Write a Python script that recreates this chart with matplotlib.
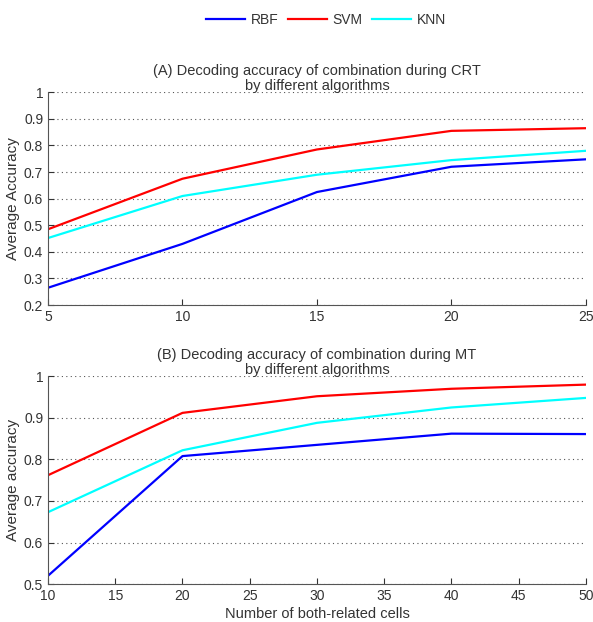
import matplotlib
matplotlib.use("Agg")
import matplotlib.pyplot as plt

plt.rcParams['font.family'] = ['Liberation Sans', 'DejaVu Sans']

# (A) CRT
cells_a = [5, 10, 15, 20, 25]
rbf_a = [0.265, 0.43, 0.625, 0.72, 0.748]
svm_a = [0.485, 0.675, 0.785, 0.855, 0.865]
knn_a = [0.452, 0.61, 0.69, 0.745, 0.78]

# (B) MT
cells_b = [10, 20, 30, 40, 50]
rbf_b = [0.52, 0.808, 0.835, 0.862, 0.861]
svm_b = [0.762, 0.912, 0.952, 0.97, 0.98]
knn_b = [0.673, 0.822, 0.888, 0.925, 0.948]

labels = ["RBF", "SVM", "KNN"]
colors = ["#0000ff", "#ff0000", "#00ffff"]

fig = plt.figure(figsize=(5.93, 6.22), dpi=100)
ax1 = fig.add_axes([0.081, 0.5096, 0.907, 0.342])
ax2 = fig.add_axes([0.081, 0.061, 0.907, 0.334])


def style(ax):
    ax.grid(axis='y', linestyle=(0, (1, 3)), color='#555555', linewidth=0.8)
    ax.tick_params(direction='in', labelsize=10, colors='#333333', length=4, right=False, top=False)
    for s in ax.spines.values():
        s.set_color('#555555')
    ax.spines['top'].set_visible(False)
    ax.spines['right'].set_visible(False)


handles = []
for y, c, lab in zip([rbf_a, svm_a, knn_a], colors, labels):
    h, = ax1.plot(cells_a, y, color=c, lw=1.6, label=lab)
    handles.append(h)
ax1.set_xlim(5, 25)
ax1.set_ylim(0.2, 1)
ax1.set_xticks([5, 10, 15, 20, 25])
ax1.set_yticks([0.2, 0.3, 0.4, 0.5, 0.6, 0.7, 0.8, 0.9, 1])
ax1.set_yticklabels(["0.2", "0.3", "0.4", "0.5", "0.6", "0.7", "0.8", "0.9", "1"])
ax1.set_ylabel("Average Accuracy", fontsize=11, color='#333333', labelpad=3)
ax1.set_title("(A) Decoding accuracy of combination during CRT\nby different algorithms",
              fontsize=10.5, color='#333333', y=1.0, pad=1.5, linespacing=1.15)
style(ax1)

for y, c in zip([rbf_b, svm_b, knn_b], colors):
    ax2.plot(cells_b, y, color=c, lw=1.6)
ax2.set_xlim(10, 50)
ax2.set_ylim(0.5, 1)
ax2.set_xticks([10, 15, 20, 25, 30, 35, 40, 45, 50])
ax2.set_yticks([0.5, 0.6, 0.7, 0.8, 0.9, 1])
ax2.set_yticklabels(["0.5", "0.6", "0.7", "0.8", "0.9", "1"])
ax2.set_ylabel("Average accuracy", fontsize=11, color='#333333', labelpad=3)
ax2.set_xlabel("Number of both-related cells", fontsize=10.5, color='#333333', labelpad=3)
ax2.set_title("(B) Decoding accuracy of combination during MT\nby different algorithms",
              fontsize=10.5, color='#333333', y=1.0, pad=1.5, linespacing=1.15)
style(ax2)

fig.legend(handles, labels, loc='upper center', bbox_to_anchor=(0.55, 1.0), ncol=3,
           frameon=False, fontsize=10, handlelength=2.8, columnspacing=0.7,
           handletextpad=0.4, labelcolor='#333333')

fig.savefig("out.png", dpi=100)
